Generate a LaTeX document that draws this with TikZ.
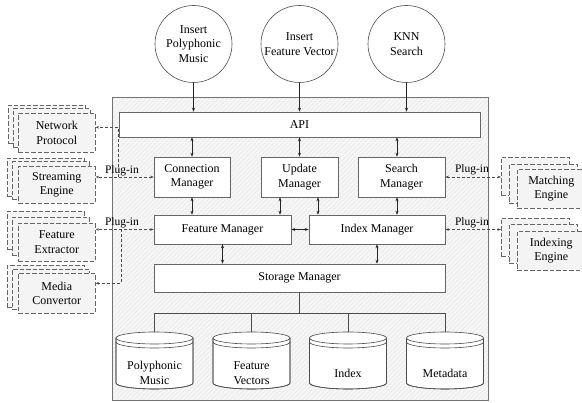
\documentclass[tikz,border=0pt]{standalone}
\usepackage{fontspec}
\setmainfont{Liberation Serif}
\usetikzlibrary{arrows.meta,patterns.meta,calc}
\begin{document}
\begin{tikzpicture}[x=1pt,y=-1pt, font=\fontsize{12}{14.5}\selectfont,
 box/.style={draw=black!60, fill=white, line width=0.6pt, align=center, inner sep=0pt},
 circ/.style={circle, draw=black!70, fill=white, line width=0.6pt, align=center, inner sep=0pt, minimum size=77pt},
 plugbox/.style={draw=black!60, fill=gray!9, dash pattern=on 4.5pt off 2pt, line width=0.6pt, align=center, inner sep=0pt, anchor=north west},
 lbox/.style={plugbox, minimum width=77pt},
 rbox/.style={plugbox, minimum width=68pt},
 arr/.style={-{Stealth[length=4pt,width=3pt]}, line width=0.5pt, black!85},
 darr/.style={{Stealth[length=4pt,width=3pt]}-{Stealth[length=4pt,width=3pt]}, line width=0.5pt, black!85},
 plug/.style={dash pattern=on 3pt off 2pt, line width=0.5pt, black!70},
 plugarr/.style={plug, -{Stealth[length=3.5pt,width=2.6pt]}},
 plugdarr/.style={plug, {Stealth[length=3.5pt,width=2.6pt]}-{Stealth[length=3.5pt,width=2.6pt]}},
 lbl/.style={font=\fontsize{11.5}{13}\selectfont, inner sep=0pt, anchor=base},
 cyl/.style={draw=black!70, fill=white, line width=0.6pt}
]
\useasboundingbox (0,0) rectangle (582,403);
\clip (0,0) rectangle (582,403);

% system box
\node[draw=black!55, line width=0.6pt, preaction={fill=gray!7}, pattern={Lines[angle=45,distance=3.2pt,line width=0.35pt]}, pattern color=gray!22,
      minimum width=376pt, minimum height=303pt, anchor=north west, inner sep=0pt] (sys) at (112,97) {};

% circles
\node[circ] (c1) at (193.5,44) {Insert\\Polyphonic\\Music};
\node[circ] (c2) at (299.5,44) {Insert\\Feature Vector};
\node[circ] (c3) at (406.5,44) {KNN\\Search};

% boxes
\node[box, minimum width=361pt, minimum height=25pt] (api) at (299.5,124.5) {API};
\node[box, minimum width=76pt, minimum height=40pt] (cm) at (192,177) {Connection\\Manager};
\node[box, minimum width=77pt, minimum height=40pt] (um) at (299.5,177) {Update\\Manager};
\node[box, minimum width=87pt, minimum height=40pt] (sm) at (401.5,177) {Search\\Manager};
\node[box, minimum width=137pt, minimum height=29pt] (fm) at (222.5,229.5) {Feature Manager};
\node[box, minimum width=136pt, minimum height=29pt] (im) at (377,229.5) {Index Manager};
\node[box, minimum width=291pt, minimum height=28pt] (stm) at (299.5,278) {Storage Manager};

% arrows
\draw[arr] (c1.south) -- (c1.south |- api.north);
\draw[arr] (c2.south) -- (c2.south |- api.north);
\draw[arr] (c3.south) -- (c3.south |- api.north);
\draw[darr] (cm.north) -- (cm.north |- api.south);
\draw[darr] (um.north) -- (um.north |- api.south);
\draw[darr] ([xshift=-4.5pt]sm.north) -- ([xshift=-4.5pt]sm.north |- api.south);
\draw[darr] (cm.south) -- (cm.south |- fm.north);
\draw[darr] ([xshift=-19.5pt]um.south) -- ([xshift=-19.5pt]um.south |- fm.north);
\draw[darr] ([xshift=18.5pt]um.south) -- ([xshift=18.5pt]um.south |- im.north);
\draw[darr] ([xshift=-4.5pt]sm.south) -- ([xshift=-4.5pt]sm.south |- im.north);
\draw[darr] (fm.east) -- (im.west);
\draw[darr] (fm.south) -- (fm.south |- stm.north);
\draw[darr] (im.south) -- (im.south |- stm.north);

% cylinders
\foreach \cx/\nm/\txt in {154.5/pm/{Polyphonic\\Music}, 251.5/fv/{Feature\\Vectors}, 348/ix/{Index}, 445/md/{Metadata}}{
  \path[cyl] (\cx-38.5,338) -- (\cx-38.5,383) arc[start angle=180, end angle=360, x radius=38.5pt, y radius=6pt] -- (\cx+38.5,338) -- cycle;
  \draw[black!70, line width=0.6pt] (\cx-38.5,338) -- (\cx-38.5,383) arc[start angle=180, end angle=360, x radius=38.5pt, y radius=6pt] -- (\cx+38.5,338);
  \draw[cyl] (\cx,338) ellipse [x radius=38.5pt, y radius=6pt];
  \draw[black!70, line width=0.6pt] (\cx-38.5,342) arc[start angle=180, end angle=360, x radius=38.5pt, y radius=6pt];
  \coordinate (\nm-top) at (\cx,332);
  \node[align=center, inner sep=0pt] (\nm) at (\cx,373) {\txt};
}
\draw[black!70, line width=0.6pt] (stm.south) -- ++(0,21) coordinate (bus);
\draw[black!70, line width=0.6pt] (pm-top |- bus) -- (md-top |- bus);
\foreach \nm in {pm,fv,ix,md}{
  \draw[black!70, line width=0.6pt] (\nm-top |- bus) -- (\nm-top);
}

% left plug-in stacks
\node[lbox, minimum height=38pt] (np3) at (8,105) {};
\node[lbox, minimum height=39pt] (np2) at (13,108.5) {};
\node[lbox, minimum height=39pt] (np) at (18,113) {Network\\Protocol};

\node[lbox, minimum height=38pt] (se3) at (7,158) {};
\node[lbox, minimum height=38pt] (se2) at (12,161.5) {};
\node[lbox, minimum height=37pt] (se) at (18,166) {Streaming\\Engine};

\node[lbox, minimum height=38pt] (fe3) at (7,211) {};
\node[lbox, minimum height=38pt] (fe2) at (12,217) {};
\node[lbox, minimum height=38pt] (fe) at (18,223) {Feature\\Extractor};

\node[lbox, minimum height=42pt] (mc3) at (7,265) {};
\node[lbox, minimum height=40pt] (mc2) at (12,269) {};
\node[lbox, minimum height=40pt] (mc) at (18,273) {Media\\Convertor};

% right plug-in stacks
\node[rbox, minimum height=38pt] (me3) at (501,157) {};
\node[rbox, minimum height=39pt] (me2) at (509,164) {};
\node[rbox, minimum height=39pt] (me) at (517,169) {Matching\\Engine};

\node[rbox, minimum height=38pt] (ie3) at (501,218) {};
\node[rbox, minimum height=39pt] (ie2) at (509,224) {};
\node[rbox, minimum height=39pt] (ie) at (517,231) {Indexing\\Engine};

% plug-in connectors
\draw[plugdarr] (cm.west) -- (cm.west -| se.east);
\node[lbl] (pl1) at (122,173.5) {Plug-in};
\draw[plugdarr] (fm.west) -- (fm.west -| fe.east);
\node[lbl] (pl2) at (122,226) {Plug-in};
\draw[plugdarr] (sm.east) -- (sm.east -| me3.west);
\node[lbl] (pl3) at (472,173) {Plug-in};
\draw[plugdarr] (im.east) -- (im.east -| ie3.west);
\node[lbl] (pl4) at (472,226) {Plug-in};

\coordinate (jn) at (118,177);
\draw[plugarr] (jn) |- ([yshift=5.5pt]np.east);
\coordinate (jm) at (121,229.5);
\draw[plugarr] (jm) |- ([yshift=10pt]mc.east);
\end{tikzpicture}
\end{document}
